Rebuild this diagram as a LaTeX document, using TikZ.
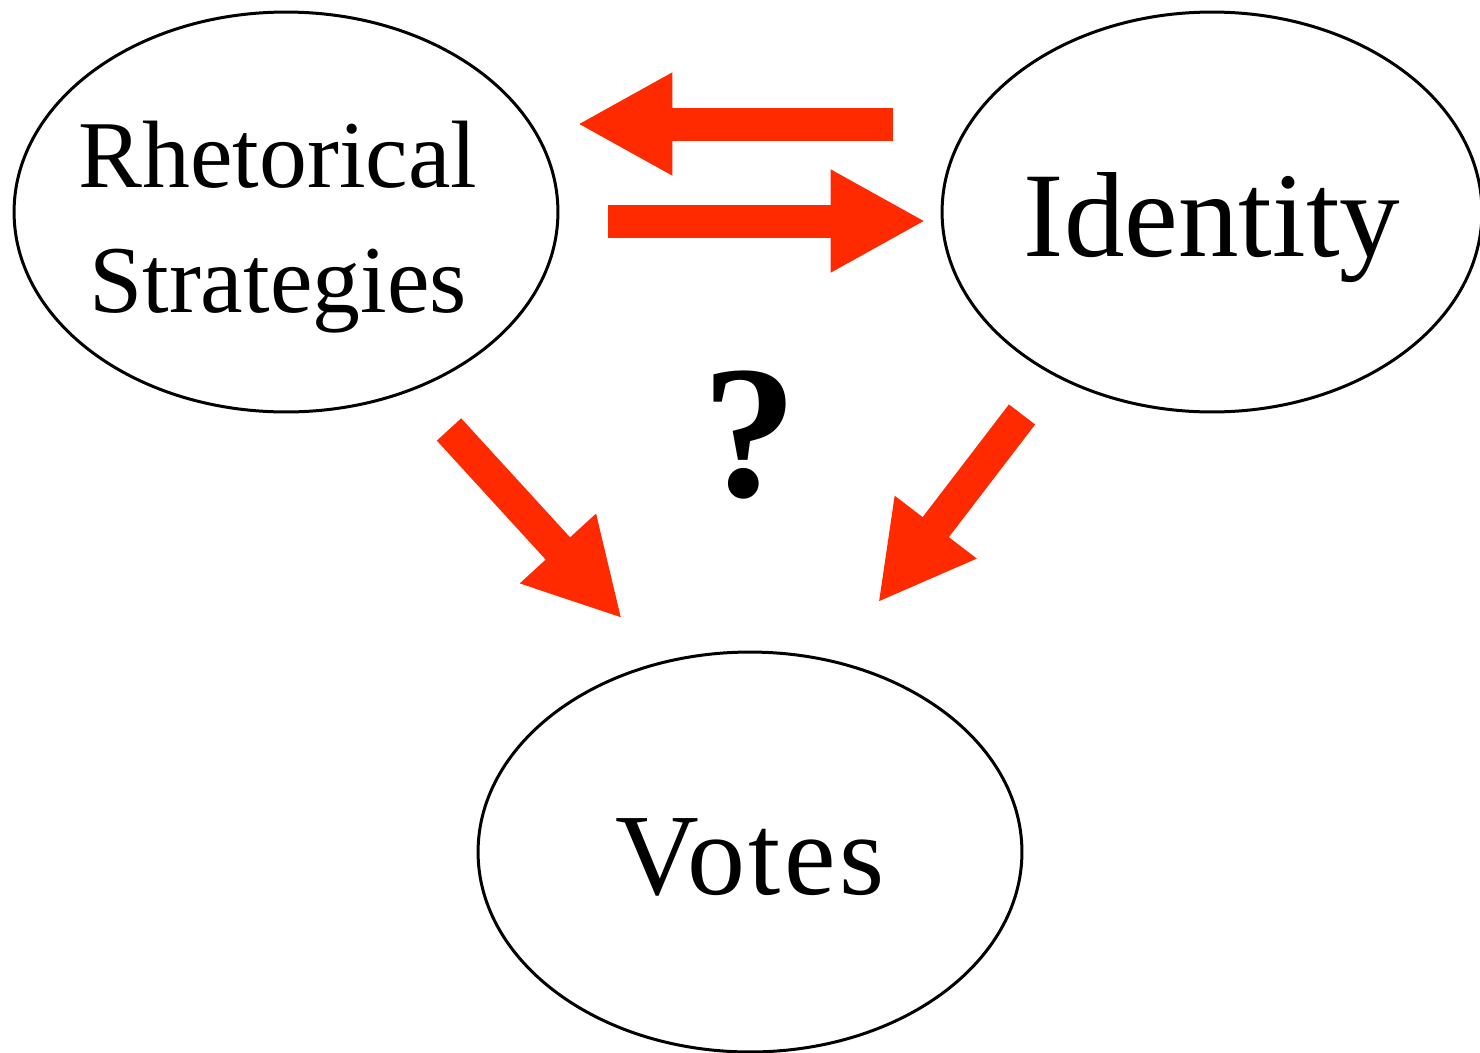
\documentclass[tikz,border=0pt]{standalone}
\usepackage{fontspec}
\setmainfont{Liberation Serif}
\usetikzlibrary{shapes.geometric,arrows.meta,calc}
\definecolor{arrowred}{RGB}{255,42,0}
\tikzset{
  state/.style={ellipse,draw=black,line width=0.06cm,inner xsep=-3cm,inner ysep=-1cm,
    minimum width=10.88cm,minimum height=8cm},
  fatarrow/.style={draw=arrowred,line width=0.66cm,
    -{Triangle[length=1.9cm,width=1.92cm,fill=arrowred]}}
}
\begin{document}
\begin{tikzpicture}[x=0.02cm,y=-0.02cm]
\useasboundingbox (0,0) rectangle (1480,1052);
% the three variables
\node [state,font=\fontsize{54.5}{71.4}\selectfont] (rhet) at (286,212)
  {\hspace*{-0.32cm}\raisebox{-0.26cm}[\height][\depth]{\begin{tabular}{@{}c@{}}Rhetorical\\Strategies\end{tabular}}};
\node [state,minimum width=10.8cm,font=\fontsize{68.9}{80}\selectfont] (ident) at (1212,212)
  {\raisebox{-0.32cm}[\height][\depth]{Identity}};
\node [state,font=\fontsize{66}{80}\selectfont\addfontfeatures{LetterSpace=3}] (votes) at (750,852)
  {\raisebox{-0.1cm}[\height][\depth]{Votes}};
\node [font=\fontsize{108}{120}\selectfont\bfseries] (query) at (750,435) {?};
% effects
\draw [fatarrow] ($(ident.west)+(-48,-88)$) -- ($(rhet.east)+(18,-88)$);
\draw [fatarrow] ($(rhet.east)+(49,9)$) -- ($(ident.west)+(-15,9)$);
\draw [fatarrow] ($(rhet.south)+(163,16)$) -- ($(votes.north)+(-128,-32)$);
\draw [fatarrow] ($(ident.south)+(-190,1)$) -- ($(votes.north)+(128,-48)$);
\end{tikzpicture}
\end{document}
